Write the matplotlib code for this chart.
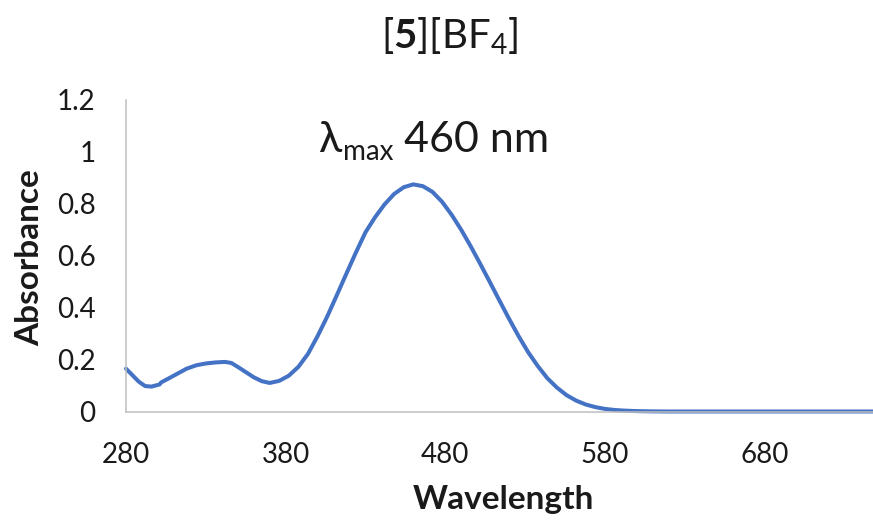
import matplotlib
matplotlib.use("Agg")
import matplotlib.pyplot as plt

# ---- data ----
wavelength = [280, 284, 288, 292, 296, 299, 301, 302, 306, 312, 318, 324, 330, 336,
              342, 346, 350, 355, 360, 365, 370, 376, 382, 388, 394, 400, 406, 412,
              418, 424, 430, 436, 442, 448, 454, 460, 466, 472, 478, 484, 490, 496,
              502, 508, 514, 520, 526, 532, 538, 544, 550, 556, 562, 568, 574, 580,
              586, 592, 600, 610, 620, 650, 700, 748]
absorbance = [0.165, 0.140, 0.115, 0.098, 0.096, 0.101, 0.104, 0.112, 0.125, 0.145,
              0.165, 0.178, 0.185, 0.189, 0.191, 0.187, 0.172, 0.152, 0.132, 0.117,
              0.110, 0.118, 0.138, 0.172, 0.222, 0.290, 0.365, 0.447, 0.530, 0.612,
              0.690, 0.748, 0.798, 0.838, 0.864, 0.875, 0.868, 0.846, 0.808, 0.758,
              0.700, 0.636, 0.568, 0.498, 0.427, 0.357, 0.290, 0.228, 0.175, 0.128,
              0.092, 0.063, 0.042, 0.027, 0.017, 0.010, 0.006, 0.0035, 0.0015, 0.0005,
              0.0, 0.0, 0.0, 0.0]
x_ticks = [280, 380, 480, 580, 680]
y_ticks = [0, 0.2, 0.4, 0.6, 0.8, 1.0, 1.2]
y_tick_labels = ["0", "0.2", "0.4", "0.6", "0.8", "1", "1.2"]

FONT = ["Lato", "DejaVu Sans"]
plt.rcParams["font.family"] = FONT
plt.rcParams["mathtext.fontset"] = "custom"
plt.rcParams["mathtext.rm"] = "Lato"
plt.rcParams["mathtext.bf"] = "Lato:bold"
plt.rcParams["mathtext.default"] = "regular"

W, H = 873, 525
fig = plt.figure(figsize=(W / 100, H / 100), dpi=100)
px = lambda v: v / W
py = lambda v: 1 - v / H

ax_left, ax_right, ax_bottom, ax_top = 126, 873, 411.5, 100
ax = fig.add_axes([px(ax_left), py(ax_bottom), (ax_right - ax_left) / W, (ax_bottom - ax_top) / H])
ax.plot(wavelength, absorbance, color="#4472C4", lw=2.9, solid_capstyle="round",
        solid_joinstyle="round", clip_on=False)
ax.set_xlim(280, 748)
ax.set_ylim(0, 1.2)
ax.set_xticks(x_ticks)
ax.set_yticks(y_ticks)
ax.set_yticklabels(y_tick_labels)
for s in ("top", "right"):
    ax.spines[s].set_visible(False)
for s in ("left", "bottom"):
    ax.spines[s].set_color("#BFBFBF")
    ax.spines[s].set_linewidth(1.1)
ax.tick_params(axis="both", length=0, labelsize=20, colors="#1a1a1a")
ax.tick_params(axis="x", pad=22)
ax.tick_params(axis="y", pad=22)

fig.text(px(503), py(500), "Wavelength", ha="center", va="center",
         fontsize=24, fontweight="bold", color="#1a1a1a")
fig.text(px(30), py(258), "Absorbance", ha="center", va="center", rotation=90,
         fontsize=24, fontweight="bold", color="#1a1a1a")

fig.text(px(450), py(49), r"[$\mathbf{5}$][BF$_{4}$]", ha="center", va="baseline",
         fontsize=29, color="#1a1a1a")

# lambda max annotation built from pieces
renderer = fig.canvas.get_renderer()
base_y = 152
t1 = fig.text(px(318), py(base_y), "λ", fontsize=31, va="baseline",
              family=["Lato", "DejaVu Sans"], color="#1a1a1a")
bb = t1.get_window_extent(renderer)
t2 = fig.text(bb.x1 / W + 0.002, py(base_y + 8), "max", fontsize=20, va="baseline",
              color="#1a1a1a")
bb2 = t2.get_window_extent(renderer)
fig.text(bb2.x1 / W, py(base_y), " 460 nm", fontsize=31, va="baseline", color="#1a1a1a")

fig.savefig("out.png", dpi=100)
